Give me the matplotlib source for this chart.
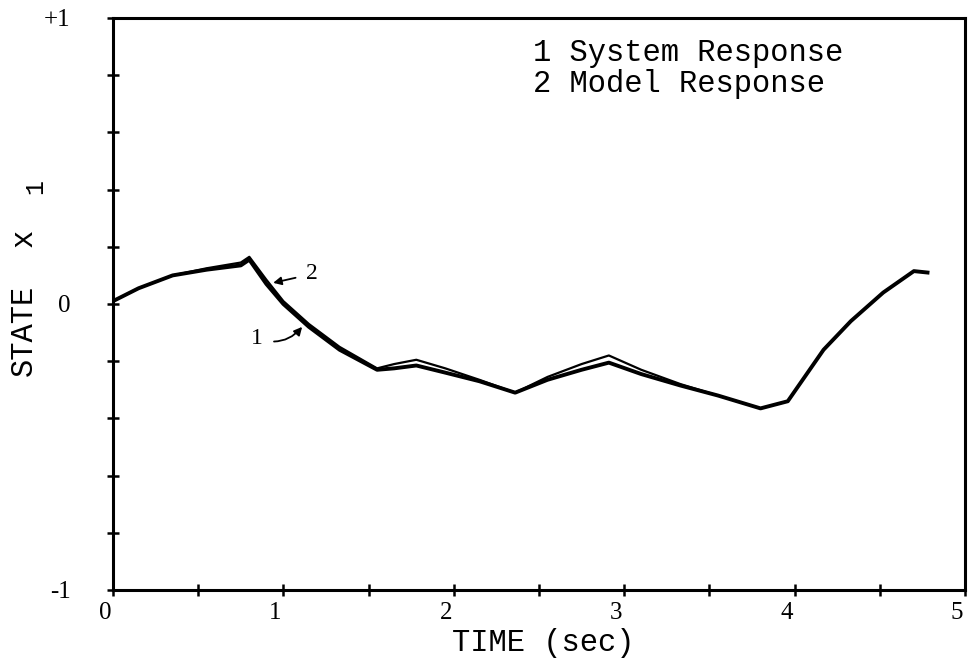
import numpy as np
import matplotlib
matplotlib.use("Agg")
import matplotlib.pyplot as plt
from matplotlib.transforms import ScaledTranslation

# data
time_pts = [0.00, 0.15, 0.35, 0.55, 0.75, 0.80, 0.90, 1.00, 1.15, 1.33,
            1.55, 1.65, 1.78, 1.95, 2.15, 2.36, 2.55, 2.75, 2.91, 3.10,
            3.33, 3.55, 3.80, 3.96, 4.17, 4.33, 4.52, 4.70, 4.78]
system_resp = [0.010, 0.055, 0.100, 0.120, 0.135, 0.155, 0.070, 0.000, -0.080, -0.160,
               -0.230, -0.225, -0.215, -0.240, -0.270, -0.310, -0.265, -0.230, -0.205, -0.245,
               -0.285, -0.320, -0.365, -0.340, -0.160, -0.060, 0.040, 0.115, 0.110]
model_resp = [0.010, 0.055, 0.100, 0.125, 0.145, 0.165, 0.085, 0.010, -0.070, -0.150,
              -0.225, -0.210, -0.195, -0.225, -0.265, -0.310, -0.255, -0.210, -0.180, -0.230,
              -0.280, -0.320, -0.365, -0.340, -0.160, -0.060, 0.040, 0.115, 0.110]

x_ticks = [0, 0.5, 1, 1.5, 2, 2.5, 3, 3.5, 4, 4.5, 5]
x_labels = ["0", "", "1", "", "2", "", "3", "", "4", "", "5"]
y_ticks = [-1, -0.8, -0.6, -0.4, -0.2, 0, 0.2, 0.4, 0.6, 0.8, 1]
y_labels = ["-1", "", "", "", "", "0", "", "", "", "", "+1"]

mono = "Liberation Mono"
serif = "Liberation Serif"

plt.rcParams['font.family'] = serif
plt.rcParams['xtick.labelsize'] = 18
plt.rcParams['ytick.labelsize'] = 18

fig = plt.figure(figsize=(9.79, 6.62), dpi=100)
ax = fig.add_axes([113 / 979, 1 - 590 / 662, 852 / 979, 572 / 662])

ax.plot(time_pts, model_resp, color='black', linewidth=1.6, zorder=3)
ax.plot(time_pts, system_resp, color='black', linewidth=2.8, zorder=4)

ax.set_xlim(0, 5)
ax.set_ylim(-1, 1)

ax.tick_params(axis='x', direction='inout', length=9, width=1.8, pad=4)
ax.tick_params(axis='y', direction='inout', length=9, width=1.8, pad=26)
ax.set_xticks(x_ticks)
ax.set_xticklabels(x_labels)
ax.set_yticks(y_ticks)
ax.set_yticklabels(y_labels)

# hand lettered x labels sit a bit left of their ticks
shift = ScaledTranslation(-8 / 100, 0, fig.dpi_scale_trans)
for lab in ax.get_xticklabels():
    lab.set_transform(lab.get_transform() + shift)

for s in ax.spines.values():
    s.set_linewidth(2.2)

# curve labels with arrows
ax.annotate("2", xy=(0.94, 0.074), xytext=(1.17, 0.105),
            fontsize=17, fontfamily=serif, ha='center', va='center',
            arrowprops=dict(arrowstyle='-|>', color='black', lw=1.3,
                            shrinkA=6, shrinkB=0, mutation_scale=12))
ax.annotate("1", xy=(1.11, -0.08), xytext=(0.845, -0.12),
            fontsize=17, fontfamily=serif, ha='center', va='center',
            arrowprops=dict(arrowstyle='-|>', color='black', lw=1.3,
                            shrinkA=6, shrinkB=0, mutation_scale=12,
                            connectionstyle='arc3,rad=0.35'))

# legend as plain text
fig.text(533 / 979, 1 - 61 / 662, "1 System Response", fontfamily=mono,
         fontsize=22, va='baseline', ha='left')
fig.text(533 / 979, 1 - 92 / 662, "2 Model Response", fontfamily=mono,
         fontsize=22, va='baseline', ha='left')

fig.text(543 / 979, 1 - 643 / 662, "TIME (sec)", fontfamily=mono,
         fontsize=22, ha='center', va='center')

# y label: STATE x with subscript 1
fig.text(24 / 979, 1 - 330 / 662, "STATE", fontfamily=mono,
         fontsize=22, ha='center', va='center', rotation=90)
fig.text(24 / 979, 1 - 238 / 662, "x", fontfamily=mono,
         fontsize=22, ha='center', va='center', rotation=90)
fig.text(35 / 979, 1 - 186 / 662, "1", fontfamily=mono,
         fontsize=18, ha='center', va='center', rotation=90)

fig.savefig("out.png", dpi=100)
